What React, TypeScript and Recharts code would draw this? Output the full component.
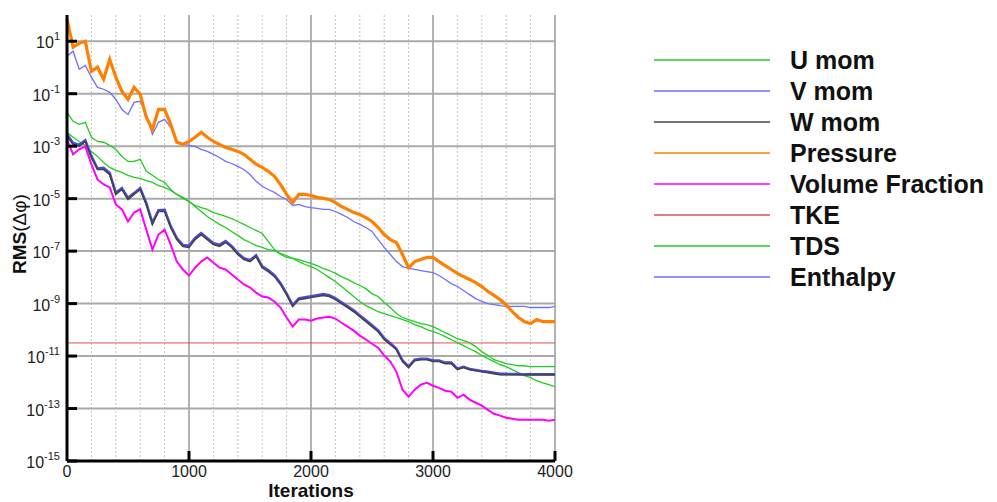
import { LineChart, Line, XAxis, YAxis, ReferenceLine, Label } from "recharts";

// iteration grid the residuals are read at
const iterations = [
  0, 50, 100, 150, 200, 250, 300, 350, 400, 450, 500, 550, 600, 650, 700, 750, 800, 850, 900, 950,
  1000, 1050, 1100, 1150, 1200, 1250, 1300, 1350, 1400, 1450, 1500, 1550, 1600, 1650, 1700, 1750, 1800, 1850, 1900, 1950,
  2000, 2050, 2100, 2150, 2200, 2250, 2300, 2350, 2400, 2450, 2500, 2550, 2600, 2650, 2700, 2750, 2800, 2850, 2900, 2950,
  3000, 3050, 3100, 3150, 3200, 3250, 3300, 3350, 3400, 3450, 3500, 3550, 3600, 3650, 3700, 3750, 3800, 3850, 3900, 3950,
  4000,
];

// residuals as log10(RMS)
const uMom = [
  -1.71, -2.05, -2.17, -2.09, -2.66, -2.82, -2.85, -2.97, -3.12, -3.39, -3.58, -3.58, -3.5, -3.96, -4.11, -4.27, -4.38, -4.65, -4.84, -4.99,
  -5.11, -5.26, -5.34, -5.41, -5.53, -5.6, -5.68, -5.76, -5.87, -5.98, -6.1, -6.21, -6.33, -6.63, -6.94, -7.13, -7.24, -7.28, -7.32, -7.4,
  -7.47, -7.55, -7.66, -7.74, -7.85, -7.97, -8.08, -8.2, -8.31, -8.43, -8.62, -8.73, -8.96, -9.15, -9.38, -9.53, -9.61, -9.69, -9.76, -9.8,
  -9.88, -9.99, -10.11, -10.22, -10.34, -10.41, -10.49, -10.64, -10.83, -10.98, -11.14, -11.21, -11.29, -11.33, -11.37, -11.37, -11.4, -11.4, -11.4, -11.4,
  -11.4,
];
const vMom = [
  -2.55, -2.88, -2.95, -2.78, -3.38, -3.85, -3.83, -4.02, -4.78, -4.6, -4.97, -4.79, -4.6, -5.17, -5.92, -5.44, -5.43, -6.05, -6.5, -6.77,
  -6.8, -6.5, -6.32, -6.51, -6.7, -6.76, -6.62, -6.81, -7.08, -7.27, -7.35, -7.16, -7.58, -7.73, -7.92, -8.22, -8.62, -9.06, -8.8, -8.76,
  -8.72, -8.68, -8.64, -8.68, -8.8, -8.95, -9.1, -9.26, -9.45, -9.64, -9.83, -10.02, -10.32, -10.51, -10.72, -11.17, -11.4, -11.14, -11.1, -11.1,
  -11.17, -11.17, -11.25, -11.25, -11.48, -11.41, -11.49, -11.53, -11.57, -11.6, -11.64, -11.68, -11.68, -11.69, -11.69, -11.7, -11.7, -11.7, -11.7, -11.7,
  -11.7,
];
const wMom = [
  -2.63, -2.93, -3.01, -2.82, -3.43, -3.89, -3.89, -4.08, -4.84, -4.65, -5.03, -4.84, -4.65, -5.22, -5.98, -5.49, -5.49, -6.1, -6.56, -6.82,
  -6.86, -6.56, -6.37, -6.56, -6.75, -6.82, -6.67, -6.86, -7.13, -7.32, -7.4, -7.21, -7.63, -7.78, -7.97, -8.27, -8.66, -9.11, -8.85, -8.81,
  -8.77, -8.73, -8.69, -8.73, -8.85, -9.0, -9.15, -9.31, -9.5, -9.69, -9.88, -10.07, -10.37, -10.56, -10.76, -11.21, -11.44, -11.18, -11.14, -11.14,
  -11.21, -11.21, -11.29, -11.29, -11.52, -11.44, -11.52, -11.56, -11.6, -11.63, -11.67, -11.71, -11.71, -11.71, -11.71, -11.71, -11.71, -11.71, -11.71, -11.71,
  -11.71,
];
const pressure = [
  1.84, 0.77, 0.92, 1.0, -0.15, 0.01, -0.45, 0.31, -0.37, -0.91, -1.21, -0.76, -1.02, -1.9, -2.36, -1.6, -1.6, -2.17, -2.85, -2.93,
  -2.82, -2.66, -2.47, -2.66, -2.82, -2.93, -3.05, -3.12, -3.2, -3.31, -3.5, -3.69, -3.81, -3.96, -4.15, -4.46, -4.84, -5.15, -4.84, -4.84,
  -4.88, -4.95, -4.99, -5.03, -5.15, -5.3, -5.41, -5.53, -5.6, -5.72, -5.87, -6.1, -6.37, -6.56, -6.67, -7.13, -7.63, -7.4, -7.32, -7.24,
  -7.24, -7.4, -7.55, -7.7, -7.85, -7.97, -8.08, -8.2, -8.35, -8.54, -8.69, -8.85, -9.04, -9.31, -9.53, -9.69, -9.76, -9.61, -9.69, -9.69,
  -9.69,
];
const volumeFraction = [
  -2.74, -3.31, -3.12, -3.01, -3.69, -4.27, -4.46, -4.57, -5.22, -5.41, -5.87, -5.53, -5.41, -6.18, -6.94, -6.37, -6.18, -6.75, -7.4, -7.7,
  -7.93, -7.63, -7.4, -7.24, -7.44, -7.63, -7.7, -7.89, -8.08, -8.27, -8.39, -8.58, -8.73, -8.77, -8.92, -9.15, -9.53, -9.88, -9.61, -9.61,
  -9.65, -9.57, -9.53, -9.5, -9.57, -9.73, -9.88, -10.03, -10.22, -10.37, -10.53, -10.68, -10.98, -11.21, -11.6, -12.28, -12.55, -12.28, -12.09, -12.02,
  -12.13, -12.21, -12.32, -12.36, -12.59, -12.47, -12.66, -12.78, -12.89, -13.05, -13.2, -13.27, -13.35, -13.39, -13.43, -13.43, -13.43, -13.43, -13.43, -13.47,
  -13.43,
];
const tds = [
  -2.47, -2.66, -2.82, -2.97, -3.2, -3.39, -3.62, -3.81, -3.92, -4.0, -4.11, -4.19, -4.23, -4.31, -4.38, -4.5, -4.57, -4.69, -4.84, -4.95,
  -5.11, -5.3, -5.49, -5.68, -5.83, -5.98, -6.1, -6.25, -6.4, -6.56, -6.67, -6.79, -6.86, -6.94, -6.98, -7.09, -7.17, -7.28, -7.4, -7.51,
  -7.59, -7.7, -7.85, -8.01, -8.16, -8.35, -8.54, -8.73, -8.92, -9.08, -9.19, -9.31, -9.38, -9.46, -9.53, -9.61, -9.69, -9.8, -9.88, -9.99,
  -10.07, -10.15, -10.26, -10.37, -10.49, -10.6, -10.72, -10.83, -10.98, -11.1, -11.21, -11.33, -11.4, -11.52, -11.63, -11.75, -11.82, -11.94, -12.02, -12.09,
  -12.17,
];
const enthalpy = [
  0.43, 0.62, -0.07, 0.08, -0.37, -0.76, -0.83, -0.95, -1.21, -1.6, -1.79, -1.33, -1.29, -1.79, -2.55, -2.09, -1.98, -2.28, -2.82, -2.93,
  -2.97, -3.01, -3.12, -3.2, -3.31, -3.43, -3.58, -3.66, -3.77, -3.89, -4.08, -4.34, -4.53, -4.65, -4.76, -4.92, -5.03, -5.26, -5.22, -5.3,
  -5.34, -5.37, -5.41, -5.41, -5.49, -5.6, -5.72, -5.87, -5.98, -6.1, -6.25, -6.56, -6.86, -7.13, -7.4, -7.59, -7.66, -7.7, -7.74, -7.78,
  -7.82, -7.93, -8.08, -8.24, -8.35, -8.5, -8.66, -8.81, -8.92, -9.0, -9.04, -9.08, -9.11, -9.11, -9.11, -9.11, -9.15, -9.15, -9.15, -9.15,
  -9.11,
];
// TKE stays flat for the whole run
const tkeIterations = [0, 4000];
const tke = [-10.5, -10.5];

const yTicks = [-15, -13, -11, -9, -7, -5, -3, -1, 1];
const gridY = [-13, -11, -9, -7, -5, -3, -1, 1];
const xTicks = [0, 1000, 2000, 3000, 4000];
const minorX = [200, 400, 600, 800, 1200, 1400, 1600, 1800, 2200, 2400, 2600, 2800, 3200, 3400, 3600, 3800];
const majorX = [1000, 2000, 3000, 4000];

const series = [
  { key: "uMom", name: "U mom", color: "#22cc22" },
  { key: "vMom", name: "V mom", color: "#6f6fff" },
  { key: "wMom", name: "W mom", color: "#444444" },
  { key: "pressure", name: "Pressure", color: "#ff8000" },
  { key: "volumeFraction", name: "Volume Fraction", color: "#ff00ff" },
  { key: "tke", name: "TKE", color: "#dd5555" },
  { key: "tds", name: "TDS", color: "#22cc22" },
  { key: "enthalpy", name: "Enthalpy", color: "#6f6fff" },
];

const data = iterations.map((it, i) => ({
  it,
  uMom: uMom[i],
  vMom: vMom[i],
  wMom: wMom[i],
  pressure: pressure[i],
  volumeFraction: volumeFraction[i],
  tds: tds[i],
  enthalpy: enthalpy[i],
}));
const tkeData = tkeIterations.map((it, i) => ({ it, tke: tke[i] }));

const FONT = '"Liberation Sans", Arial, Helvetica, sans-serif';
const color = (k: string) => series.find((s) => s.key === k)!.color;

function YTick({ x, y, payload }: any) {
  return (
    <g>
      <line x1={x + 6} x2={x + 16} y1={y} y2={y} stroke="#000" strokeWidth={3} />
      <text x={x - 1} y={y + 7} textAnchor="end" fontSize={16} fill="#222" fontFamily={FONT}>
        10
        <tspan dy={-8} fontSize={11}>
          {payload.value}
        </tspan>
      </text>
    </g>
  );
}

function XTick({ x, y, payload }: any) {
  return (
    <g>
      {payload.value !== 0 && <line x1={x} x2={x} y1={y - 2} y2={y - 12} stroke="#000" strokeWidth={3} />}
      <text x={x} y={y + 14} textAnchor="middle" fontSize={16} fill="#222" fontFamily={FONT}>
        {payload.value}
      </text>
    </g>
  );
}

function XTitle({ viewBox }: any) {
  return (
    <text
      x={viewBox.x + viewBox.width / 2}
      y={viewBox.y + viewBox.height - 5}
      textAnchor="middle"
      fontSize={19}
      fontWeight="bold"
      fill="#111"
      fontFamily={FONT}
    >
      Iterations
    </text>
  );
}

function YTitle({ viewBox }: any) {
  const cx = viewBox.x + 12;
  const cy = viewBox.y + viewBox.height / 2 - 4;
  return (
    <text
      x={cx}
      y={cy}
      transform={`rotate(-90 ${cx} ${cy})`}
      textAnchor="middle"
      dominantBaseline="central"
      fontSize={19}
      fill="#111"
      fontFamily={FONT}
    >
      <tspan fontWeight="bold">RMS</tspan>
      <tspan>(Δφ)</tspan>
    </text>
  );
}

function LegendBox() {
  return (
    <svg width={347} height={260} style={{ position: "absolute", left: 650, top: 45 }}>
      {series.map((s, i) => (
        <g key={s.key}>
          <line x1={4} x2={120} y1={15 + i * 31} y2={15 + i * 31} stroke={s.color} strokeWidth={1.5} />
          <text x={140} y={15 + i * 31} dominantBaseline="central" fontSize={25} fontWeight="bold" fill="#111" fontFamily={FONT}>
            {s.name}
          </text>
        </g>
      ))}
    </svg>
  );
}

export default function App() {
  return (
    <div style={{ position: "absolute", left: 0, top: 0, width: 997, height: 502, background: "#fff", fontFamily: FONT }}>
      <LineChart width={997} height={502} data={data} margin={{ top: 15, right: 442, bottom: 0, left: 7 }}>
        {minorX.map((v) => (
          <ReferenceLine key={`m${v}`} x={v} stroke="#c4c4c4" strokeDasharray="2 2" />
        ))}
        {majorX.map((v) => (
          <ReferenceLine key={`M${v}`} x={v} stroke="#666666" strokeWidth={1} />
        ))}
        {gridY.map((v) => (
          <ReferenceLine key={`h${v}`} y={v} stroke="#aaaaaa" strokeWidth={2} />
        ))}
        <XAxis
          type="number"
          dataKey="it"
          domain={[0, 4000]}
          ticks={xTicks}
          height={41}
          tickSize={0}
          tickMargin={2}
          tick={(p: any) => <XTick {...p} />}
          axisLine={{ stroke: "#000", strokeWidth: 3 }}
        >
          <Label content={(p: any) => <XTitle {...p} />} />
        </XAxis>
        <YAxis
          type="number"
          domain={[-15, 2]}
          ticks={yTicks}
          width={60}
          tickSize={0}
          tickMargin={6}
          allowDataOverflow
          tick={(p: any) => <YTick {...p} />}
          axisLine={{ stroke: "#000", strokeWidth: 3 }}
        >
          <Label content={(p: any) => <YTitle {...p} />} />
        </YAxis>
        <Line data={tkeData} dataKey="tke" stroke={color("tke")} strokeWidth={1} dot={false} isAnimationActive={false} />
        <Line dataKey="tds" stroke={color("tds")} strokeWidth={1.3} dot={false} isAnimationActive={false} />
        <Line dataKey="uMom" stroke={color("uMom")} strokeWidth={1.3} dot={false} isAnimationActive={false} />
        <Line dataKey="enthalpy" stroke={color("enthalpy")} strokeWidth={1.3} dot={false} isAnimationActive={false} />
        <Line dataKey="pressure" stroke={color("pressure")} strokeWidth={3.2} dot={false} isAnimationActive={false} />
        <Line dataKey="volumeFraction" stroke={color("volumeFraction")} strokeWidth={2} dot={false} isAnimationActive={false} />
        <Line dataKey="vMom" stroke="#4a4ae0" strokeWidth={2.6} dot={false} isAnimationActive={false} />
        <Line dataKey="wMom" stroke={color("wMom")} strokeWidth={1.6} dot={false} isAnimationActive={false} />
      </LineChart>
      <LegendBox />
    </div>
  );
}
